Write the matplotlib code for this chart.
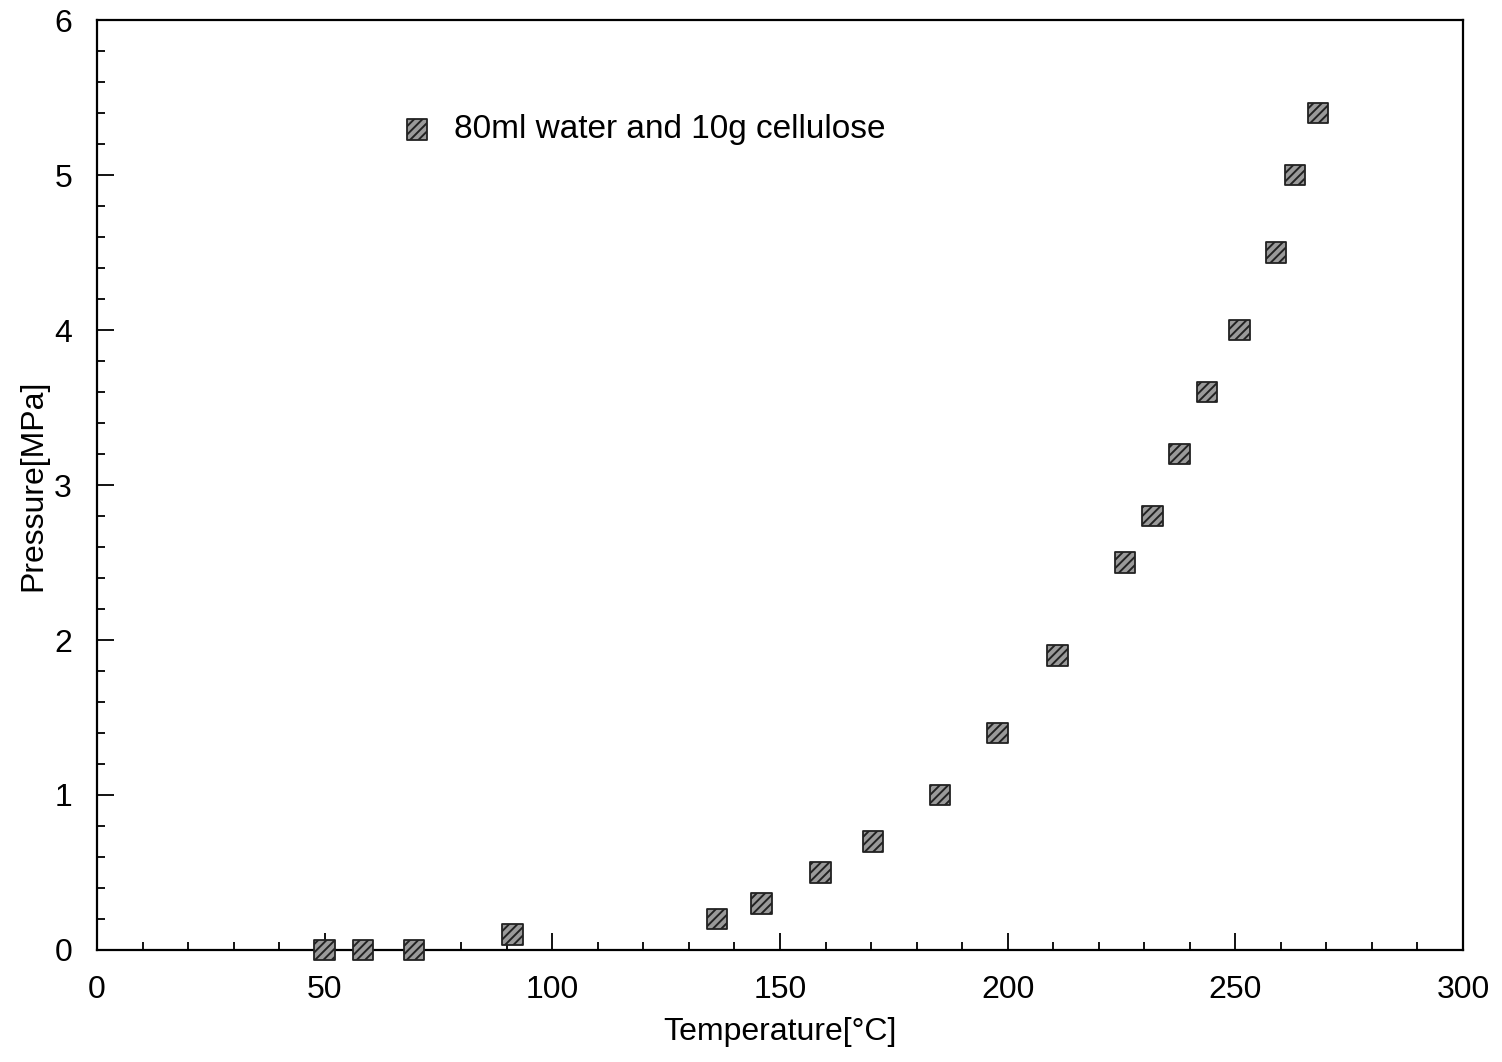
"""Pressure vs temperature, 80 ml water + 10 g cellulose."""
import matplotlib
matplotlib.use('Agg')
import matplotlib.pyplot as plt
from matplotlib.ticker import MultipleLocator

plt.rcParams['font.family'] = ['Liberation Sans', 'DejaVu Sans']
plt.rcParams['hatch.linewidth'] = 1.4

temperature = [50, 58.4, 69.6, 91.3, 136.2, 146, 158.9, 170.4, 185.1, 197.8,
               210.9, 225.8, 231.8, 237.8, 243.8, 250.9, 258.9, 263.1, 268.2]
pressure = [0, 0, 0, 0.1, 0.2, 0.3, 0.5, 0.7, 1.0, 1.4,
            1.9, 2.5, 2.8, 3.2, 3.6, 4.0, 4.5, 5.0, 5.4]
label = '80ml water and 10g cellulose'

fig = plt.figure(figsize=(15.02, 10.62), dpi=100)
ax = fig.add_axes([0.0646, 0.1055, 0.9094, 0.8755])

ax.scatter(temperature, pressure, marker='s', s=220, facecolor='#9a9a9a',
           edgecolor='#222222', linewidth=1.3, hatch='////', zorder=3,
           label=label, clip_on=False)

ax.set_xlim(0, 300)
ax.set_ylim(0, 6)
ax.xaxis.set_major_locator(MultipleLocator(50))
ax.xaxis.set_minor_locator(MultipleLocator(10))
ax.yaxis.set_major_locator(MultipleLocator(1))
ax.yaxis.set_minor_locator(MultipleLocator(0.2))
ax.tick_params(which='both', direction='in', top=False, right=False,
               width=1.3, labelsize=23, pad=18)
ax.tick_params(which='major', length=12)
ax.tick_params(which='minor', length=6)
for s in ax.spines.values():
    s.set_linewidth(1.6)

ax.set_xlabel('Temperature[°C]', fontsize=23, labelpad=9)
ax.set_ylabel('Pressure[MPa]', fontsize=23, labelpad=4)

ax.legend(loc='center left', bbox_to_anchor=(0.222, 0.882), frameon=False,
          fontsize=24, markerscale=1.0, handlelength=1.0, handletextpad=0.6,
          borderpad=0, borderaxespad=0)

fig.savefig('out.png', dpi=100)
